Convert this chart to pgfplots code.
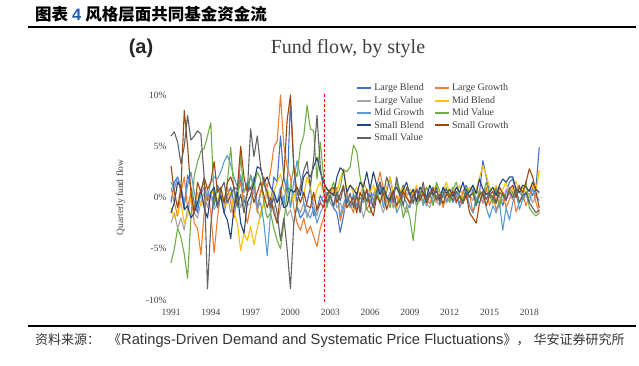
\documentclass[border=0pt]{standalone}
\usepackage{pgfplots}
\pgfplotsset{compat=1.18}
\usepackage{pgfplotstable}
\usepackage{fontspec}
\setmainfont{Liberation Serif}
\newfontfamily\arial{Liberation Sans}
\newfontfamily\cjk{Noto Sans CJK SC}
\definecolor{cLB}{HTML}{4472C4}
\definecolor{cLG}{HTML}{ED7D31}
\definecolor{cLV}{HTML}{A5A5A5}
\definecolor{cMB}{HTML}{FFC000}
\definecolor{cMG}{HTML}{5B9BD5}
\definecolor{cMV}{HTML}{70AD47}
\definecolor{cSB}{HTML}{264478}
\definecolor{cSG}{HTML}{9E480E}
\definecolor{cSV}{HTML}{636363}
\definecolor{txt}{HTML}{404040}
\definecolor{blue4}{HTML}{1F5BB5}

% quarterly fund flow (%), 1991Q1 ... 2018Q4
\pgfplotstableread[row sep=\\]{v\\
-0.5\\ 1.5\\ 2.0\\ 0.5\\ -1.0\\ 2.2\\ 1.0\\ -0.5\\ -1.5\\ 0.8\\ 1.5\\ -0.3\\
0.5\\ -0.8\\ 1.2\\ 0.3\\ -1.5\\ 0.2\\ 1.0\\ -0.6\\ 0.8\\ 1.8\\ -0.5\\ 0.3\\
2.2\\ 1.0\\ -1.0\\ 0.5\\ 1.5\\ 0.2\\ -0.8\\ 2.0\\ 1.5\\ 6.0\\ 2.0\\ 0.5\\
9.5\\ 3.0\\ -1.0\\ -2.0\\ -1.5\\ -0.5\\ 1.0\\ -1.8\\ -1.2\\ 0.2\\ -0.5\\ 0.5\\
0.3\\ -1.0\\ -1.5\\ -3.4\\ -1.8\\ 0.2\\ -0.8\\ -0.6\\ 0.5\\ -1.2\\ 0.3\\ -0.4\\
0.8\\ -0.3\\ 0.2\\ 1.5\\ -0.5\\ 0.6\\ 2.0\\ 0.3\\ -0.8\\ 0.4\\ 1.2\\ 0.2\\
0.5\\ -0.6\\ 0.8\\ -0.2\\ 0.6\\ -0.8\\ 0.5\\ 1.0\\ -0.3\\ 0.2\\ 0.7\\ -0.5\\
0.4\\ 1.0\\ 0.2\\ -0.6\\ 0.6\\ 1.2\\ 0.0\\ 0.8\\ -0.3\\ 0.5\\ 3.6\\ 2.0\\
0.5\\ -0.4\\ 1.0\\ 0.2\\ -0.8\\ 0.5\\ 1.5\\ 1.8\\ 0.6\\ 1.2\\ -0.3\\ 0.4\\
0.8\\ 0.2\\ 1.0\\ 4.9\\
}\tLB
\pgfplotstableread[row sep=\\]{v\\
1.0\\ -0.5\\ -1.8\\ 0.5\\ 2.0\\ -1.0\\ 0.5\\ -2.5\\ -3.0\\ -5.6\\ -1.5\\ 0.8\\
-1.5\\ -5.4\\ -2.0\\ 0.5\\ -1.0\\ 1.0\\ -0.5\\ -2.0\\ 0.3\\ 1.5\\ -1.0\\ -2.5\\
-0.8\\ 1.0\\ -1.5\\ 0.5\\ 2.0\\ 1.0\\ 2.5\\ 4.9\\ 5.5\\ 10.0\\ 5.1\\ 3.0\\
2.0\\ -1.0\\ -2.5\\ -3.2\\ -2.0\\ -3.5\\ -2.8\\ -3.8\\ -4.8\\ -3.0\\ -2.0\\ -0.5\\
0.8\\ 0.2\\ 1.0\\ -2.3\\ -1.0\\ 0.5\\ -0.6\\ -1.5\\ 0.3\\ -0.8\\ 0.5\\ -1.2\\
-0.5\\ 0.3\\ 1.0\\ 2.5\\ 0.8\\ -0.5\\ 0.5\\ -1.0\\ 0.2\\ -0.6\\ 0.8\\ 0.0\\
-0.4\\ 0.6\\ -0.8\\ 0.2\\ 1.0\\ -0.2\\ -0.6\\ 0.4\\ -0.5\\ 0.3\\ -1.0\\ 0.2\\
0.5\\ -0.3\\ 0.2\\ -0.8\\ 0.6\\ -0.2\\ 0.3\\ -1.5\\ -0.5\\ 0.8\\ -0.6\\ 1.0\\
-0.8\\ 0.2\\ -1.2\\ -0.4\\ 0.5\\ -1.0\\ -0.2\\ 0.6\\ -1.4\\ -0.5\\ 0.3\\ -0.8\\
0.2\\ 1.0\\ -0.5\\ -1.5\\
}\tLG
\pgfplotstableread[row sep=\\]{v\\
-2.5\\ -1.5\\ -3.0\\ -2.0\\ -3.2\\ -1.0\\ 0.0\\ -1.5\\ -2.0\\ -0.5\\ 0.5\\ -1.0\\
0.3\\ -1.2\\ -0.5\\ 0.6\\ -0.8\\ 0.2\\ -1.5\\ -0.3\\ 0.5\\ -1.0\\ 0.2\\ -0.8\\
-0.5\\ 0.8\\ -1.2\\ -2.0\\ -0.4\\ 0.5\\ -1.5\\ -0.8\\ -2.5\\ -1.0\\ 0.2\\ -1.8\\
-1.2\\ -2.5\\ -0.8\\ -1.5\\ -0.5\\ -2.0\\ -1.0\\ -0.6\\ -1.8\\ -0.4\\ 0.2\\ -0.5\\
-0.2\\ 0.5\\ -1.0\\ -0.5\\ -1.5\\ 0.2\\ -0.8\\ 0.3\\ -1.2\\ -0.5\\ -2.0\\ -0.6\\
-0.2\\ -1.0\\ 0.3\\ -0.5\\ -1.5\\ -0.3\\ 0.4\\ -1.0\\ -0.6\\ 0.2\\ -0.8\\ -1.5\\
-0.5\\ 0.3\\ -0.8\\ -0.3\\ 0.5\\ -0.6\\ -1.0\\ 0.2\\ -0.4\\ -0.8\\ 0.3\\ -0.5\\
-0.2\\ 0.5\\ -0.6\\ 0.1\\ -0.4\\ 0.6\\ 0.2\\ -0.3\\ 0.8\\ 0.1\\ -0.5\\ 0.4\\
0.2\\ -0.5\\ 0.6\\ 0.0\\ -0.3\\ 0.8\\ 0.3\\ -0.2\\ 1.0\\ 0.5\\ 0.0\\ 0.6\\
0.3\\ -0.5\\ 0.2\\ 0.6\\
}\tLV
\pgfplotstableread[row sep=\\]{v\\
-1.0\\ -2.0\\ -1.5\\ -0.5\\ -2.5\\ -1.8\\ 0.0\\ -1.0\\ 0.5\\ -0.8\\ -0.2\\ 0.6\\
0.2\\ 0.8\\ -0.5\\ 1.0\\ -1.0\\ -0.5\\ 0.5\\ -1.5\\ -2.5\\ -5.2\\ -3.5\\ -4.2\\
-2.8\\ -4.6\\ -3.0\\ -1.5\\ -0.5\\ 0.8\\ -0.2\\ 0.5\\ 1.5\\ 2.3\\ 0.8\\ 0.2\\
-1.0\\ 0.5\\ -0.8\\ 1.2\\ 0.2\\ 2.0\\ 1.0\\ -0.5\\ 0.8\\ 1.5\\ 0.5\\ 1.0\\
0.2\\ 1.0\\ 0.5\\ 1.8\\ 2.8\\ 0.6\\ 1.2\\ 0.4\\ 1.0\\ 0.2\\ 1.5\\ 0.8\\
0.5\\ 1.2\\ 0.2\\ 0.8\\ -0.5\\ 1.0\\ 2.0\\ 0.4\\ -1.2\\ 0.6\\ 1.0\\ 0.2\\
0.8\\ 0.3\\ 1.2\\ -0.2\\ 0.5\\ 1.0\\ 0.4\\ 0.8\\ 1.2\\ 0.2\\ 0.6\\ 1.5\\
0.4\\ 0.9\\ 0.2\\ 1.2\\ -0.3\\ 0.5\\ 1.0\\ 0.2\\ 0.8\\ 2.0\\ 3.1\\ 2.2\\
1.0\\ 0.5\\ 1.2\\ 0.3\\ 0.8\\ 1.5\\ 0.2\\ 0.9\\ 1.6\\ 0.5\\ 1.0\\ 0.4\\
0.8\\ 1.2\\ 0.6\\ 2.7\\
}\tMB
\pgfplotstableread[row sep=\\]{v\\
1.5\\ 0.8\\ 2.0\\ 1.0\\ -0.5\\ 1.2\\ 2.5\\ 0.5\\ -1.0\\ 0.3\\ 1.0\\ 0.0\\
1.5\\ 2.0\\ 1.8\\ 2.5\\ 3.5\\ 4.1\\ 3.2\\ 2.0\\ 1.0\\ 2.2\\ 0.5\\ 1.5\\
0.8\\ 2.0\\ -1.0\\ -0.5\\ -2.5\\ -5.7\\ -1.5\\ 0.5\\ -0.5\\ 1.0\\ -0.8\\ 2.0\\
-1.0\\ 1.5\\ 3.6\\ 2.0\\ -0.5\\ -1.5\\ -2.0\\ -1.0\\ -2.5\\ -1.5\\ -0.8\\ 0.5\\
-0.5\\ -1.0\\ 0.5\\ -1.8\\ -0.6\\ 0.2\\ -1.0\\ 0.4\\ -0.8\\ 0.0\\ -0.5\\ 0.8\\
-0.6\\ 0.4\\ -0.2\\ 1.0\\ -1.0\\ 0.2\\ -0.5\\ 0.5\\ -1.5\\ -0.8\\ 0.3\\ -0.6\\
-1.0\\ 0.2\\ -0.3\\ 0.6\\ -0.8\\ 0.1\\ 0.5\\ -0.6\\ 0.2\\ -0.4\\ 0.8\\ -0.3\\
0.2\\ -0.5\\ 0.4\\ -1.0\\ -0.2\\ 0.5\\ -0.8\\ -1.5\\ 0.0\\ -0.6\\ 0.3\\ -1.0\\
-2.0\\ -0.8\\ -1.5\\ -0.5\\ -3.2\\ -1.0\\ -2.2\\ -0.5\\ 0.5\\ -1.2\\ -0.2\\ 0.4\\
-0.5\\ 0.8\\ 0.2\\ -0.3\\
}\tMG
\pgfplotstableread[row sep=\\]{v\\
-6.4\\ -5.0\\ -3.0\\ -3.9\\ -5.5\\ -7.9\\ -2.0\\ 2.1\\ 3.5\\ 4.5\\ 4.8\\ 6.0\\
7.3\\ -0.5\\ 1.0\\ 0.0\\ -0.5\\ 1.5\\ 4.9\\ 0.5\\ -1.0\\ 4.1\\ 0.5\\ 1.2\\
2.0\\ 1.0\\ 2.5\\ 1.8\\ -0.5\\ -2.0\\ -1.5\\ -3.0\\ -4.2\\ -5.0\\ -2.5\\ 0.5\\
1.0\\ 3.0\\ 2.0\\ 5.0\\ 6.0\\ 9.0\\ 6.7\\ 6.5\\ 1.8\\ 5.4\\ 2.0\\ -1.0\\
0.5\\ 1.5\\ 0.2\\ 1.0\\ 2.7\\ 2.5\\ 3.0\\ 5.1\\ 4.5\\ 2.0\\ 0.5\\ -1.2\\
-1.5\\ -0.5\\ 0.8\\ -0.6\\ 1.0\\ 0.2\\ -1.0\\ 0.5\\ 1.5\\ 0.2\\ -2.0\\ -0.8\\
-2.0\\ -4.2\\ -1.0\\ 0.5\\ -0.5\\ 1.0\\ 0.3\\ -0.8\\ 1.5\\ 0.6\\ 0.0\\ 1.0\\
-0.5\\ 0.8\\ 1.5\\ 0.2\\ -0.3\\ 1.0\\ 0.5\\ 1.2\\ -0.5\\ 0.6\\ 0.2\\ 1.5\\
0.3\\ -0.6\\ 0.8\\ -1.0\\ 0.5\\ -0.2\\ 1.0\\ 0.4\\ 0.6\\ -0.5\\ 0.2\\ 1.6\\
-1.0\\ -1.5\\ -1.8\\ -1.5\\
}\tMV
\pgfplotstableread[row sep=\\]{v\\
-1.5\\ -0.5\\ 1.5\\ 1.0\\ -1.2\\ -0.8\\ -2.0\\ -1.5\\ -0.5\\ 0.8\\ -1.0\\ -2.0\\
0.5\\ 1.0\\ -0.8\\ 0.2\\ -1.5\\ -2.2\\ -4.0\\ -1.0\\ 0.5\\ -2.5\\ -3.5\\ -0.5\\
0.2\\ 1.5\\ 3.0\\ 2.8\\ 1.5\\ 2.0\\ 1.0\\ 0.5\\ -0.5\\ 0.2\\ -1.0\\ -0.8\\
0.8\\ 0.5\\ 1.0\\ 0.2\\ 2.0\\ 2.5\\ 2.0\\ 3.0\\ 3.9\\ 2.5\\ 1.5\\ 0.8\\
0.5\\ 0.2\\ 2.0\\ 2.9\\ 2.6\\ 0.5\\ 1.2\\ 0.8\\ 0.3\\ 1.5\\ 1.0\\ 2.5\\
0.8\\ 2.5\\ 1.2\\ 0.3\\ 1.0\\ 0.0\\ -0.3\\ 0.6\\ 1.0\\ 0.2\\ 0.8\\ 1.5\\
0.2\\ 0.8\\ -0.4\\ 1.0\\ 0.5\\ 0.0\\ 1.2\\ 0.3\\ 0.6\\ -0.2\\ 1.0\\ 0.4\\
0.8\\ 0.1\\ 1.0\\ 0.5\\ 1.5\\ 0.2\\ 0.6\\ 1.2\\ 0.4\\ 1.8\\ 0.8\\ 0.3\\
0.5\\ 1.0\\ 0.2\\ 1.2\\ 1.8\\ 1.5\\ 2.0\\ 2.0\\ 0.8\\ 0.5\\ 1.2\\ 1.0\\
0.6\\ 1.5\\ 0.8\\ 0.5\\
}\tSB
\pgfplotstableread[row sep=\\]{v\\
3.1\\ 0.5\\ -1.0\\ 1.0\\ 8.5\\ 5.0\\ 0.5\\ -1.5\\ 1.5\\ 0.5\\ 2.0\\ 0.8\\
1.5\\ 3.5\\ 0.5\\ 1.0\\ -0.5\\ 1.5\\ 2.0\\ 1.0\\ 0.8\\ 5.0\\ 2.0\\ 0.5\\
1.0\\ -0.5\\ 0.5\\ 1.5\\ 0.2\\ -1.0\\ 0.0\\ -1.5\\ -2.5\\ 0.5\\ 2.0\\ 7.5\\
10.0\\ 3.0\\ 0.5\\ -0.5\\ 0.5\\ -0.8\\ -1.0\\ 0.5\\ -1.2\\ -0.5\\ -1.0\\ 0.2\\
0.8\\ 1.0\\ -0.5\\ 0.3\\ 1.2\\ -1.0\\ -0.5\\ 0.0\\ -1.5\\ 0.5\\ -0.2\\ 0.8\\
-1.0\\ -1.8\\ 0.2\\ -0.5\\ 0.5\\ -1.2\\ 0.0\\ 0.6\\ -0.8\\ -0.2\\ 0.5\\ 0.0\\
-0.6\\ 0.2\\ 0.8\\ -0.3\\ 0.4\\ -0.5\\ 0.2\\ 0.9\\ -0.2\\ 0.3\\ -0.6\\ 0.4\\
0.0\\ 0.6\\ -0.4\\ 0.2\\ -0.6\\ 0.3\\ -1.5\\ -2.0\\ -2.5\\ -0.5\\ 0.5\\ -0.8\\
0.2\\ 0.6\\ -0.5\\ 1.0\\ 0.4\\ -0.2\\ 0.8\\ 1.2\\ 0.0\\ 1.0\\ 0.5\\ 1.5\\
2.8\\ 2.0\\ 0.5\\ -1.0\\
}\tSG
\pgfplotstableread[row sep=\\]{v\\
6.0\\ 6.4\\ 5.4\\ 3.3\\ 5.0\\ 8.0\\ 5.6\\ 6.0\\ 6.5\\ 6.2\\ 2.0\\ -8.9\\
-2.7\\ 0.5\\ -1.0\\ 0.8\\ 1.5\\ -0.5\\ 0.2\\ 1.0\\ -0.8\\ 0.3\\ -1.5\\ 0.5\\
6.7\\ 4.0\\ 6.0\\ 3.0\\ 1.5\\ 0.5\\ -1.0\\ 0.0\\ -1.5\\ -4.2\\ -2.0\\ -5.0\\
-8.9\\ -2.6\\ -0.5\\ 1.0\\ 2.6\\ 3.5\\ 1.0\\ 3.8\\ 8.0\\ 3.0\\ 0.5\\ -0.5\\
0.2\\ -0.8\\ 0.5\\ -0.3\\ 1.0\\ -0.6\\ 0.4\\ -1.0\\ 0.2\\ -1.5\\ 0.8\\ -0.4\\
0.3\\ -1.0\\ 0.6\\ 1.5\\ 0.2\\ 2.0\\ 1.0\\ -0.5\\ 2.0\\ 0.5\\ -0.8\\ 1.0\\
0.2\\ -0.5\\ 0.8\\ 0.0\\ 1.5\\ -0.3\\ 0.5\\ 0.2\\ 1.0\\ -0.6\\ 0.3\\ 0.8\\
0.2\\ -0.3\\ 0.6\\ 0.1\\ -0.5\\ 0.8\\ 0.0\\ 0.5\\ -0.8\\ 0.3\\ 0.6\\ -0.2\\
0.4\\ 0.0\\ -0.6\\ 0.5\\ 0.2\\ -0.3\\ 0.6\\ 0.0\\ 0.8\\ -0.5\\ 0.2\\ 0.5\\
-0.5\\ -1.0\\ -1.5\\ -1.2\\
}\tSV

\begin{document}
\begin{tikzpicture}[x=1pt,y=1pt]
\path[use as bounding box] (0,0) rectangle (639,366);
% heading
\node[anchor=west,inner sep=0pt] at (35,352) {\fontsize{16.5}{18}\selectfont\cjk\bfseries 图表\hspace{4pt}{\arial\bfseries\color{blue4}4}\hspace{4pt}风格层面共同基金资金流};
\draw[line width=1.3pt] (28,339) -- (636,339);
\draw[line width=1.3pt] (28,40) -- (636,40);
\node[anchor=west,inner sep=0pt,text=black!80] at (35,25) {\fontsize{13}{14}\selectfont\cjk 资料来源：\hspace{8pt}《{\fontsize{14.7}{16}\selectfont\arial Ratings-Driven Demand and Systematic Price Fluctuations}》，\hspace{4pt}华安证券研究所};
% panel label and title
\node[inner sep=0pt,text=black!85] at (141,318) {\fontsize{20}{24}\selectfont\arial\bfseries (a)};
\node[inner sep=0pt,text=txt] at (348,317) {\fontsize{20}{22}\selectfont Fund flow, by style};
\begin{axis}[
  at={(171pt,66pt)}, anchor=south west,
  scale only axis, width=371.6pt, height=205pt,
  xmin=1991, xmax=2019, ymin=-10, ymax=10,
  axis line style={draw=none},
  major tick length=0pt,
  xtick={1991,1994,1997,2000,2003,2006,2009,2012,2015,2018},
  xticklabels={1991,1994,1997,2000,2003,2006,2009,2012,2015,2018},
  ytick={-10,-5,0,5,10},
  yticklabels={-10\%,-5\%,0\%,5\%,10\%},
  ticklabel style={font=\fontsize{9.5}{11}\selectfont, text=txt},
  xticklabel style={yshift=-6pt},
  yticklabel style={xshift=-1pt},
  ylabel={Quarterly fund flow},
  ylabel style={font=\fontsize{9.5}{11}\selectfont, text=txt, at={(axis description cs:-0.135,0.5)}, anchor=center, rotate=0},
  extra y ticks={0}, extra y tick labels={},
  extra y tick style={grid=major, major grid style={black!15, line width=0.6pt}},
  clip=false,
  legend columns=2,
  legend cell align=left,
  legend style={at={(axis cs:2004.95,11.3)}, anchor=north west, draw=none, fill=none,
    font=\fontsize{10}{11}\selectfont\color{txt}, inner sep=0pt, row sep=0pt,
    /tikz/every even column/.append style={column sep=8pt}},
  legend image code/.code={\draw[#1, line width=2pt] (0pt,0pt) -- (14pt,0pt);},
  every axis plot/.append style={line width=1.1pt, line join=round},
]
\addplot[cLB] table[x expr=1991+0.25*\coordindex, y=v] {\tLB};
\addlegendentry{Large Blend}
\addplot[cLG] table[x expr=1991+0.25*\coordindex, y=v] {\tLG};
\addlegendentry{Large Growth}
\addplot[cLV] table[x expr=1991+0.25*\coordindex, y=v] {\tLV};
\addlegendentry{Large Value}
\addplot[cMB] table[x expr=1991+0.25*\coordindex, y=v] {\tMB};
\addlegendentry{Mid Blend}
\addplot[cMG] table[x expr=1991+0.25*\coordindex, y=v] {\tMG};
\addlegendentry{Mid Growth}
\addplot[cMV] table[x expr=1991+0.25*\coordindex, y=v] {\tMV};
\addlegendentry{Mid Value}
\addplot[cSB] table[x expr=1991+0.25*\coordindex, y=v] {\tSB};
\addlegendentry{Small Blend}
\addplot[cSG] table[x expr=1991+0.25*\coordindex, y=v] {\tSG};
\addlegendentry{Small Growth}
\addplot[cSV] table[x expr=1991+0.25*\coordindex, y=v] {\tSV};
\addlegendentry{Small Value}
\addplot[red, line width=1.4pt, dash pattern=on 3pt off 2pt, forget plot] coordinates {(2002.55,-10.2) (2002.55,10.2)};
\end{axis}
\end{tikzpicture}
\end{document}
